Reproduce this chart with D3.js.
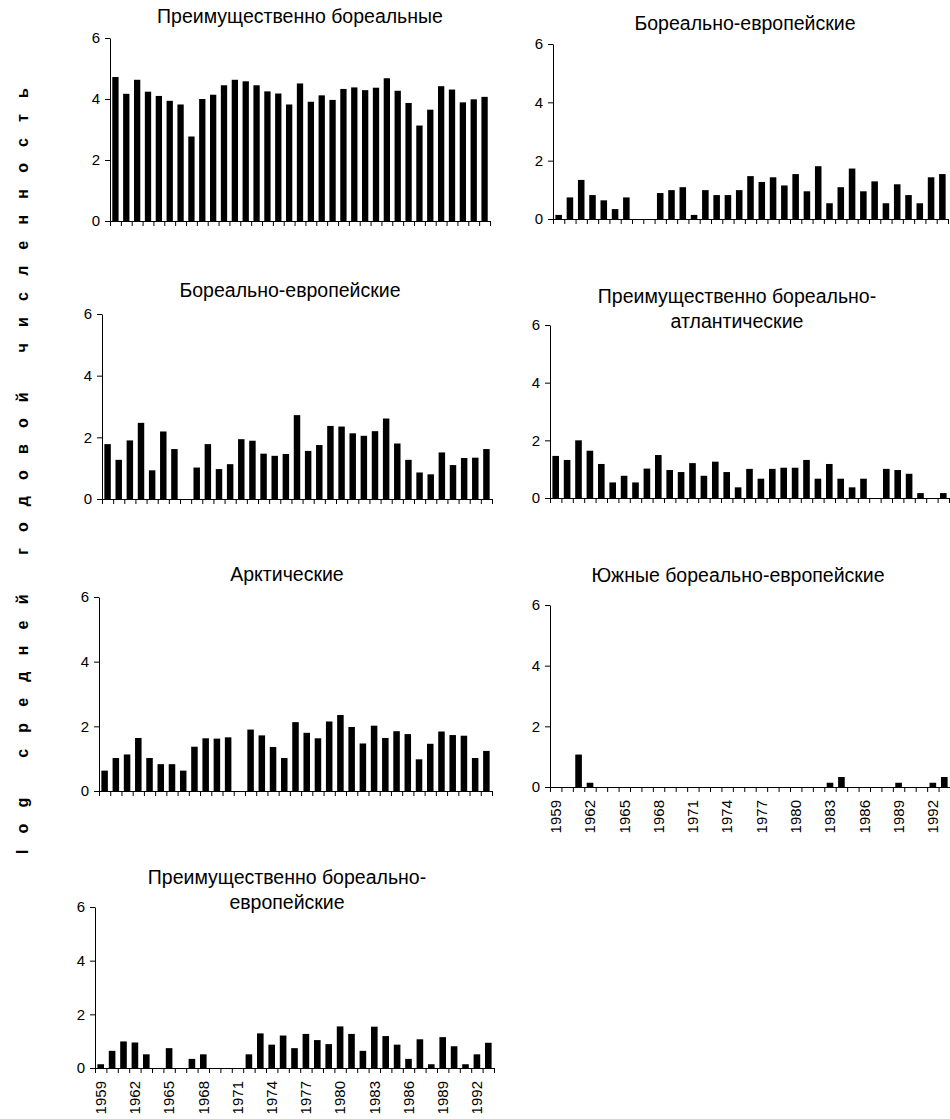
<!DOCTYPE html>
<html>
<head>
<meta charset="utf-8">
<script src="https://cdn.jsdelivr.net/npm/d3@7"></script>
<style>
  body { margin: 0; background: #fff; }
  svg { display: block; font-family: Arial, "Liberation Sans", sans-serif; }
</style>
</head>
<body>
<div id="chart"></div>
<script>
// years on the x axis and the labelled subset
const years = [1959, 1960, 1961, 1962, 1963, 1964, 1965, 1966, 1967, 1968, 1969, 1970,
  1971, 1972, 1973, 1974, 1975, 1976, 1977, 1978, 1979, 1980, 1981, 1982,
  1983, 1984, 1985, 1986, 1987, 1988, 1989, 1990, 1991, 1992, 1993];
const labelYears = [1959, 1962, 1965, 1968, 1971, 1974, 1977, 1980, 1983, 1986, 1989, 1992];
const yTicks = [0, 2, 4, 6];

// log of mean annual abundance, one array per group
const borealMain = [4.72, 4.17, 4.63, 4.24, 4.10, 3.94, 3.82, 2.77, 4.00, 4.14, 4.45, 4.63,
  4.58, 4.45, 4.25, 4.18, 3.82, 4.51, 3.91, 4.12, 3.97, 4.33, 4.38, 4.29,
  4.37, 4.68, 4.27, 3.87, 3.13, 3.65, 4.42, 4.31, 3.89, 3.99, 4.07];
const borealEuroA = [0.14, 0.74, 1.34, 0.82, 0.64, 0.34, 0.74, 0, 0, 0.89, 0.99, 1.09,
  0.14, 0.99, 0.82, 0.82, 0.99, 1.47, 1.27, 1.43, 1.15, 1.54, 0.95, 1.81,
  0.54, 1.09, 1.73, 0.95, 1.29, 0.54, 1.19, 0.82, 0.54, 1.43, 1.54];
const borealEuroB = [1.78, 1.27, 1.90, 2.47, 0.93, 2.19, 1.62, 0, 1.02, 1.78, 0.97, 1.13,
  1.94, 1.89, 1.47, 1.40, 1.46, 2.72, 1.56, 1.75, 2.37, 2.35, 2.13, 2.05,
  2.20, 2.61, 1.80, 1.27, 0.86, 0.80, 1.51, 1.10, 1.33, 1.34, 1.62];
const borealAtlantic = [1.46, 1.32, 2.00, 1.64, 1.18, 0.54, 0.77, 0.54, 1.02, 1.49, 0.97, 0.90,
  1.21, 0.77, 1.26, 0.90, 0.37, 1.01, 0.67, 1.01, 1.05, 1.05, 1.32, 0.67,
  1.18, 0.67, 0.37, 0.67, 0, 1.01, 0.97, 0.84, 0.17, 0, 0.17];
const arctic = [0.63, 1.02, 1.13, 1.64, 1.02, 0.83, 0.83, 0.63, 1.37, 1.63, 1.62, 1.66,
  0, 1.90, 1.72, 1.36, 1.02, 2.13, 1.80, 1.63, 2.15, 2.35, 1.98, 1.47,
  2.02, 1.64, 1.85, 1.76, 0.98, 1.46, 1.84, 1.73, 1.71, 1.02, 1.24];
const southBorealEuro = [0, 0, 1.07, 0.14, 0, 0, 0, 0, 0, 0, 0, 0,
  0, 0, 0, 0, 0, 0, 0, 0, 0, 0, 0, 0,
  0.14, 0.33, 0, 0, 0, 0, 0.14, 0, 0, 0.14, 0.33];
const borealEuroMain = [0.14, 0.64, 0.99, 0.95, 0.51, 0, 0.74, 0, 0.34, 0.51, 0, 0,
  0, 0.51, 1.29, 0.87, 1.21, 0.74, 1.27, 1.04, 0.89, 1.55, 1.27, 0.64,
  1.54, 1.19, 0.87, 0.34, 1.07, 0.14, 1.15, 0.81, 0.14, 0.51, 0.94];

// panel boxes (pixels) and titles
const panels = [
  { title: ['Преимущественно бореальные'], values: borealMain,
    left: 110, right: 490, bottom: 221, top: 38, tx: 300, ty: 23, years: false },
  { title: ['Бореально-европейские'], values: borealEuroA,
    left: 553, right: 948, bottom: 219, top: 44, tx: 745, ty: 30, years: false },
  { title: ['Бореально-европейские'], values: borealEuroB,
    left: 102, right: 492, bottom: 499, top: 314, tx: 290, ty: 297, years: false },
  { title: ['Преимущественно бореально-', 'атлантические'], values: borealAtlantic,
    left: 550, right: 949, bottom: 498, top: 325, tx: 737, ty: 303, years: false },
  { title: ['Арктические'], values: arctic,
    left: 99, right: 492, bottom: 791, top: 597, tx: 287, ty: 581, years: false },
  { title: ['Южные бореально-европейские'], values: southBorealEuro,
    left: 550, right: 950, bottom: 787, top: 605, tx: 738, ty: 582, years: true },
  { title: ['Преимущественно бореально-', 'европейские'], values: borealEuroMain,
    left: 95, right: 494, bottom: 1068, top: 907, tx: 287, ty: 884, years: true }
];

const svg = d3.select('#chart').append('svg')
  .attr('width', 950)
  .attr('height', 1119);

panels.forEach(p => {
  const g = svg.append('g');
  const data = years.map((yr, i) => ({ year: yr, value: p.values[i] }));

  const x = d3.scaleBand()
    .domain(years)
    .range([p.left, p.right])
    .paddingInner(0.42)
    .paddingOuter(0.21);
  const y = d3.scaleLinear()
    .domain([0, 6])
    .range([p.bottom, p.top]);
  // category boundaries for the tick marks
  const xb = d3.scaleLinear().domain([0, years.length]).range([p.left, p.right]);

  // bars
  g.append('g').selectAll('.bar').data(data).enter()
    .append('rect')
    .attr('fill', '#000')
    .attr('x', d => x(d.year))
    .attr('width', x.bandwidth())
    .attr('y', d => y(d.value))
    .attr('height', d => y(0) - y(d.value));

  // y axis
  g.append('g')
    .attr('transform', `translate(${p.left},0)`)
    .call(d3.axisLeft(y).tickValues(yTicks).tickFormat(d3.format('d'))
      .tickSize(5).tickSizeOuter(0).tickPadding(5))
    .call(a => a.selectAll('text').style('font-size', '15px').attr('fill', '#000'))
    .call(a => a.selectAll('line, path').attr('stroke', '#000'));

  // x axis with tick marks between categories
  g.append('g')
    .attr('transform', `translate(0,${p.bottom})`)
    .call(d3.axisBottom(xb).tickValues(d3.range(years.length + 1)).tickSize(5).tickSizeOuter(0).tickFormat(''))
    .call(a => a.selectAll('line, path').attr('stroke', '#000'));

  if (p.years) {
    g.append('g')
      .attr('transform', `translate(0,${p.bottom})`)
      .call(d3.axisBottom(x).tickValues(labelYears).tickSize(0))
      .call(a => a.select('.domain').remove())
      .call(a => a.selectAll('text')
        .style('font-size', '15px')
        .attr('fill', '#000')
        .attr('transform', 'rotate(-90)')
        .attr('text-anchor', 'end')
        .attr('x', -13)
        .attr('y', 0)
        .attr('dy', '0.35em'));
  }

  // title
  const t = g.append('text')
    .attr('x', p.tx)
    .attr('y', p.ty)
    .attr('text-anchor', 'middle')
    .style('font-size', '19.5px');
  p.title.forEach((line, i) => {
    t.append('tspan').attr('x', p.tx).attr('dy', i ? 25 : 0).text(line);
  });
});

// spaced-out y axis title
svg.append('text')
  .attr('transform', 'translate(28,463) rotate(-90)')
  .attr('text-anchor', 'middle')
  .style('font-size', '16px')
  .style('font-weight', 'bold')
  .style('letter-spacing', '16.2px')
  .style('word-spacing', '3px')
  .text('log средней годовой численность');
</script>
</body>
</html>
